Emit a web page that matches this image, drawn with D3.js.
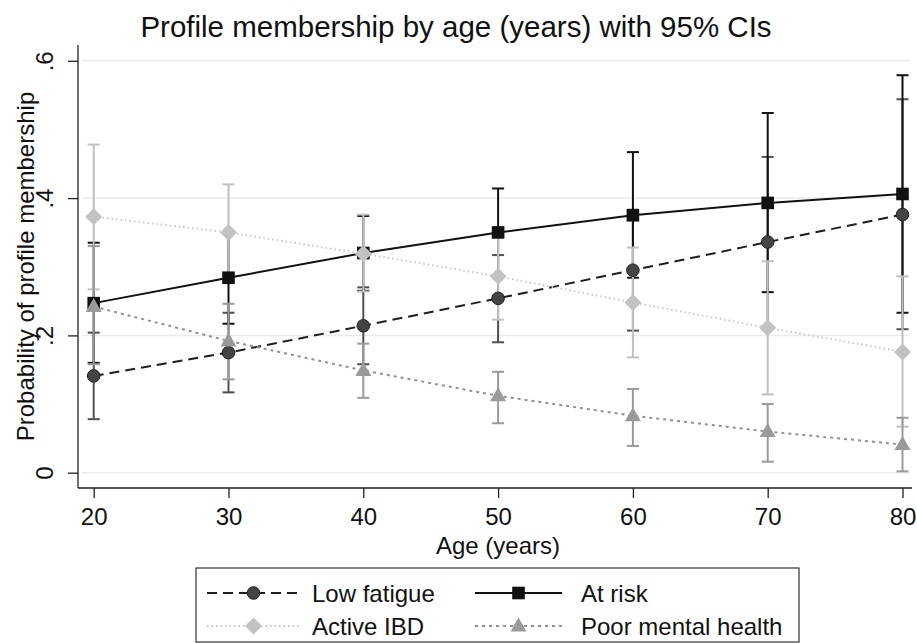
<!DOCTYPE html>
<html><head><meta charset="utf-8">
<script src="https://cdn.jsdelivr.net/npm/d3@7"></script>
<style>html,body{margin:0;padding:0;background:#fff;} svg{display:block;}</style>
</head><body>
<svg id="chart" width="917" height="643"></svg>
<script>
const ages = [20, 30, 40, 50, 60, 70, 80];
const lowFatigue   = [0.141, 0.175, 0.214, 0.254, 0.295, 0.336, 0.376];
const lowFatigueLo = [0.078, 0.117, 0.158, 0.190, 0.207, 0.213, 0.209];
const lowFatigueHi = [0.204, 0.233, 0.270, 0.317, 0.383, 0.460, 0.544];
const atRisk   = [0.247, 0.284, 0.320, 0.350, 0.375, 0.393, 0.406];
const atRiskLo = [0.160, 0.217, 0.265, 0.286, 0.284, 0.263, 0.233];
const atRiskHi = [0.335, 0.351, 0.374, 0.414, 0.467, 0.524, 0.579];
const activeIBD   = [0.373, 0.350, 0.319, 0.286, 0.248, 0.211, 0.176];
const activeIBDLo = [0.267, 0.280, 0.264, 0.223, 0.168, 0.114, 0.067];
const activeIBDHi = [0.478, 0.420, 0.376, 0.348, 0.328, 0.308, 0.286];
const poorMH   = [0.242, 0.192, 0.149, 0.112, 0.083, 0.060, 0.041];
const poorMHLo = [0.158, 0.136, 0.109, 0.072, 0.039, 0.016, 0.002];
const poorMHHi = [0.330, 0.246, 0.188, 0.147, 0.122, 0.100, 0.080];
const xTicks = [20, 30, 40, 50, 60, 70, 80];
const yTicks = [0, 0.2, 0.4, 0.6];
const seriesNames = ["Low fatigue", "At risk", "Active IBD", "Poor mental health"];
const titleText = "Profile membership by age (years) with 95% CIs";
const xTitle = "Age (years)";
const yTitle = "Probability of profile membership";

const FONT = "'Liberation Sans', Arial, Helvetica, sans-serif";
const styles = [
  {marker: "circle",   fill: "#444", stroke: "#222", ci: "#505050", line: "#1e1e1e", dash: "10,6", lw: 2},
  {marker: "square",   fill: "#111", stroke: "#111", ci: "#111",    line: "#111",    dash: null,    lw: 2},
  {marker: "diamond",  fill: "#c2c2c2", stroke: "#c2c2c2", ci: "#c0c0c0", line: "#c8c8c8", dash: "1.5,3", lw: 2},
  {marker: "triangle", fill: "#9a9a9a", stroke: "#9a9a9a", ci: "#9a9a9a", line: "#929292", dash: "3,4", lw: 2}
];
const series = [
  {name: seriesNames[0], v: lowFatigue, lo: lowFatigueLo, hi: lowFatigueHi},
  {name: seriesNames[1], v: atRisk, lo: atRiskLo, hi: atRiskHi},
  {name: seriesNames[2], v: activeIBD, lo: activeIBDLo, hi: activeIBDHi},
  {name: seriesNames[3], v: poorMH, lo: poorMHLo, hi: poorMHHi}
].map((s, i) => Object.assign(s, styles[i]));

const svg = d3.select("#chart");
const x = d3.scaleLinear().domain([20, 80]).range([93.7, 902.5]);
const y = d3.scaleLinear().domain([0, 0.6]).range([472.7, 60.8]);
const plotL = 78, plotR = 912, axisY = 488, plotTop = 45;

// gridlines
svg.append("g").selectAll("line").data(yTicks).join("line")
  .attr("x1", plotL + 4).attr("x2", plotR - 2)
  .attr("y1", d => y(d)).attr("y2", d => y(d))
  .attr("stroke", "#ebebeb").attr("stroke-width", 1.5);

// axes lines
svg.append("line").attr("x1", plotL).attr("x2", plotL).attr("y1", plotTop).attr("y2", axisY)
  .attr("stroke", "#222").attr("stroke-width", 1.3);
svg.append("line").attr("x1", plotL).attr("x2", plotR).attr("y1", axisY).attr("y2", axisY)
  .attr("stroke", "#222").attr("stroke-width", 1.3);

const xAxis = svg.append("g").attr("transform", `translate(0,${axisY})`)
  .call(d3.axisBottom(x).tickValues(xTicks).tickSize(10));
xAxis.select(".domain").remove();
xAxis.selectAll("line").attr("stroke", "#222").attr("stroke-width", 1.3);
xAxis.selectAll("text").attr("font-family", FONT).attr("font-size", 24).attr("fill", "#111")
  .attr("y", 37).attr("dy", null);

const yFmt = d => d === 0 ? "0" : d3.format(".1f")(d).replace(/^0/, "");
const yAxis = svg.append("g").attr("transform", `translate(${plotL},0)`)
  .call(d3.axisLeft(y).tickValues(yTicks).tickSize(10).tickFormat(yFmt));
yAxis.select(".domain").remove();
yAxis.selectAll("line").attr("stroke", "#222").attr("stroke-width", 1.3);
yAxis.selectAll("text").attr("font-family", FONT).attr("font-size", 24).attr("fill", "#111")
  .attr("text-anchor", "middle").attr("dy", null).attr("x", null)
  .attr("transform", "translate(-25,0) rotate(-90)");

// titles
svg.append("text").attr("x", 456).attr("y", 37).attr("text-anchor", "middle")
  .attr("font-family", FONT).attr("font-size", 29.5).attr("fill", "#111").text(titleText);
svg.append("text").attr("x", 498).attr("y", 554).attr("text-anchor", "middle")
  .attr("font-family", FONT).attr("font-size", 24).attr("fill", "#111").text(xTitle);
svg.append("text").attr("transform", `translate(34,${(88 + 445) / 2}) rotate(-90)`)
  .attr("text-anchor", "middle")
  .attr("font-family", FONT).attr("font-size", 24).attr("fill", "#111").text(yTitle);

// marker drawing
function drawMarker(g, type, cx, cy, fill, stroke) {
  if (type === "circle") {
    g.append("circle").attr("cx", cx).attr("cy", cy).attr("r", 6.3)
      .attr("fill", fill).attr("stroke", stroke).attr("stroke-width", 1);
  } else if (type === "square") {
    g.append("rect").attr("x", cx - 6.3).attr("y", cy - 6.3).attr("width", 12.6).attr("height", 12.6)
      .attr("fill", fill);
  } else if (type === "diamond") {
    g.append("path").attr("d", `M${cx},${cy - 8.5}L${cx + 8.5},${cy}L${cx},${cy + 8.5}L${cx - 8.5},${cy}Z`)
      .attr("fill", fill);
  } else {
    g.append("path").attr("d", `M${cx},${cy - 8.5}L${cx + 8},${cy + 5.5}L${cx - 8},${cy + 5.5}Z`)
      .attr("fill", fill);
  }
}

// CIs
const ciG = svg.append("g");
series.forEach(s => {
  ages.forEach((a, i) => {
    const cx = x(a);
    ciG.append("line").attr("x1", cx).attr("x2", cx).attr("y1", y(s.lo[i])).attr("y2", y(s.hi[i]))
      .attr("stroke", s.ci).attr("stroke-width", 2);
    [s.lo[i], s.hi[i]].forEach(vv => {
      ciG.append("line").attr("x1", cx - 6).attr("x2", cx + 6).attr("y1", y(vv)).attr("y2", y(vv))
        .attr("stroke", s.ci).attr("stroke-width", 2);
    });
  });
});

// connecting lines
const lineGen = d3.line().x((d, i) => x(ages[i])).y(d => y(d)).curve(d3.curveLinear);
const lineG = svg.append("g");
series.forEach(s => {
  lineG.append("path").attr("d", lineGen(s.v)).attr("fill", "none")
    .attr("stroke", s.line).attr("stroke-width", s.lw)
    .attr("stroke-dasharray", s.dash);
});

// markers
const mG = svg.append("g");
series.forEach(s => {
  s.v.forEach((v, i) => drawMarker(mG, s.marker, x(ages[i]), y(v), s.fill, s.stroke));
});

// legend
const lg = svg.append("g");
lg.append("rect").attr("x", 196).attr("y", 568).attr("width", 603).attr("height", 74)
  .attr("fill", "#fff").attr("stroke", "#333").attr("stroke-width", 1.2);
const legPos = [
  {x1: 207, x2: 300, tx: 312, cy: 593},
  {x1: 475, x2: 562, tx: 581, cy: 593},
  {x1: 207, x2: 300, tx: 312, cy: 626},
  {x1: 475, x2: 562, tx: 581, cy: 626}
];
series.forEach((s, i) => {
  const p = legPos[i];
  lg.append("line").attr("x1", p.x1).attr("x2", p.x2).attr("y1", p.cy).attr("y2", p.cy)
    .attr("stroke", s.line).attr("stroke-width", s.lw).attr("stroke-dasharray", s.dash);
  drawMarker(lg, s.marker, (p.x1 + p.x2) / 2, p.cy, s.fill, s.stroke);
  lg.append("text").attr("x", p.tx).attr("y", p.cy + 8.5)
    .attr("font-family", FONT).attr("font-size", 24).attr("fill", "#111").text(s.name);
});
</script>
</body></html>
